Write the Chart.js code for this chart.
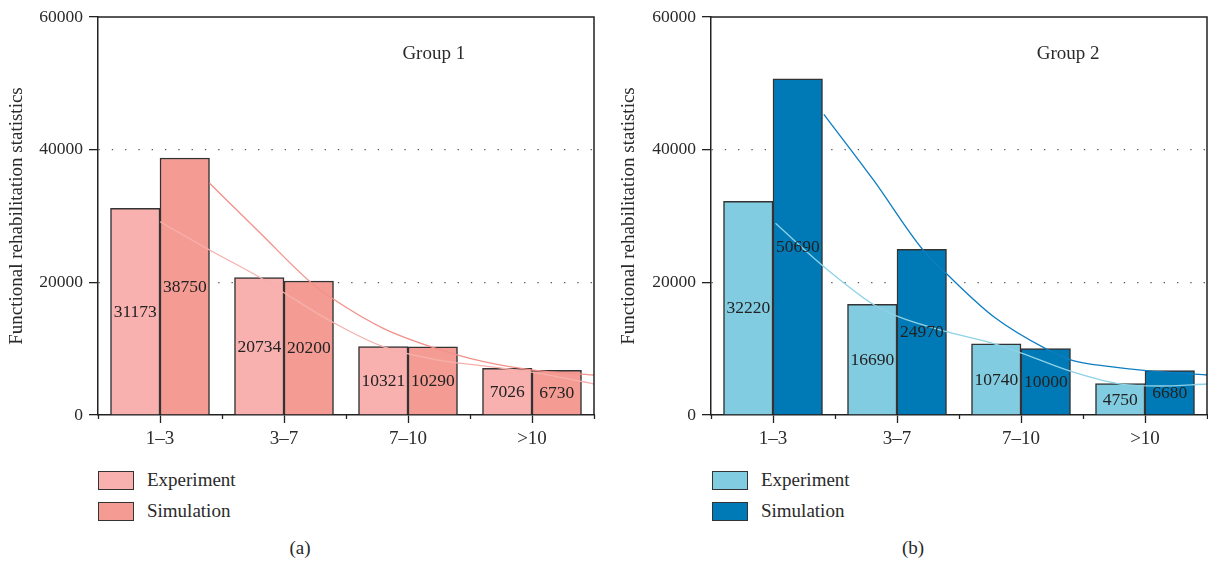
<!DOCTYPE html>
<html>
<head>
<meta charset="utf-8">
<script src="https://cdn.jsdelivr.net/npm/chart.js@4.4.1/dist/chart.umd.min.js"></script>
<style>
  body { margin: 0; background: #fff; font-family: "Liberation Serif", serif; color: #2a2a2a; }
  #wrap { position: relative; width: 1208px; height: 564px; }
  canvas { position: absolute; top: 0; }
  .box { position: absolute; width: 36px; height: 19px; border: 1.5px solid #333; box-sizing: border-box; }
  .txt { position: absolute; font-size: 19px; line-height: 20px; }
  .cap { position: absolute; font-size: 19px; line-height: 20px; transform: translateX(-50%); }
</style>
</head>
<body>
<div id="wrap">
  <canvas id="chartA" width="604" height="460" style="left:0"></canvas>
  <canvas id="chartB" width="596" height="460" style="left:612px"></canvas>
  <div id="legendA"></div>
  <div id="legendB"></div>
  <div class="cap" style="left:300px; top:538px">(a)</div>
  <div class="cap" style="left:913px; top:538px">(b)</div>
</div>
<script>
const categories = ["1–3", "3–7", "7–10", ">10"];
const yTicks = [0, 20000, 40000, 60000];
const seriesNames = ["Experiment", "Simulation"];

const group1Experiment = [31173, 20734, 10321, 7026];
const group1Simulation = [38750, 20200, 10290, 6730];
const group2Experiment = [32220, 16690, 10740, 4750];
const group2Simulation = [50690, 24970, 10000, 6680];

// fitted curves (x in category units from the left axis)
const g1ExpTrendX = [0.5, 0.9, 1.31, 1.5, 1.9, 2.3, 2.7, 3.11, 3.51, 4.0];
const g1ExpTrendY = [29140, 24870, 20700, 18440, 13910, 10300, 8440, 7390, 6430, 4670];
const g1SimTrendX = [0.9, 1.31, 1.71, 1.9, 2.3, 2.7, 3.11, 3.51, 4.0];
const g1SimTrendY = [34930, 27400, 20100, 17440, 13070, 10200, 8040, 6780, 6030];
const g2ExpTrendX = [0.52, 0.91, 1.32, 1.51, 1.9, 2.3, 2.51, 2.91, 3.3, 3.62, 4.0];
const g2ExpTrendY = [28900, 22360, 16540, 14820, 12560, 10660, 9300, 6530, 4670, 4370, 4670];
const g2SimTrendX = [0.91, 1.31, 1.71, 1.91, 2.28, 2.71, 2.92, 3.22, 3.51, 4.0];
const g2SimTrendY = [45330, 35430, 24870, 21100, 14820, 9900, 8190, 7290, 6680, 6030];

const FONT = "Liberation Serif";

/* ---------- PLUGINS ---------- */
const barValues = {
  id: "barValues",
  afterDatasetsDraw(chart) {
    const ctx = chart.ctx;
    ctx.save();
    ctx.font = "17.5px " + FONT;
    ctx.fillStyle = "#222";
    ctx.textAlign = "center";
    ctx.textBaseline = "middle";
    chart.data.datasets.forEach((ds, i) => {
      if (ds.type !== "bar") return;
      chart.getDatasetMeta(i).data.forEach((el, j) => {
        ctx.fillText(String(ds.data[j]), el.x, (el.y + el.base) / 2 + 1);
      });
    });
    ctx.restore();
  }
};

const frame = {
  id: "frame",
  afterDraw(chart, args, opts) {
    const a = chart.chartArea;
    const ctx = chart.ctx;
    ctx.save();
    ctx.strokeStyle = "#222";
    ctx.lineWidth = 1.5;
    ctx.beginPath();
    ctx.moveTo(a.left, a.top);
    ctx.lineTo(a.right, a.top);
    ctx.lineTo(a.right, a.bottom);
    ctx.stroke();
    ctx.font = "19px " + FONT;
    ctx.fillStyle = "#2a2a2a";
    ctx.textAlign = "center";
    ctx.textBaseline = "middle";
    ctx.fillText(opts.text, a.left + opts.pos * (a.right - a.left), 54);
    ctx.restore();
  }
};

function toPoints(xs, ys) {
  return xs.map((x, i) => ({ x: x, y: ys[i] }));
}

/* ---------- CHART ---------- */
function makeChart(id, exp, sim, expTrend, simTrend, colors, title, titlePos, axisWidth, padRight) {
  const bar = (label, data, color) => ({
    type: "bar", label: label, data: data, backgroundColor: color,
    borderColor: "#333", borderWidth: 1.5, order: 1,
    barThickness: 49.5
  });
  return new Chart(document.getElementById(id), {
    data: {
      labels: categories,
      datasets: [
        { type: "line", xAxisID: "xt", data: expTrend, borderColor: colors.expLine, borderWidth: 1.3,
          pointRadius: 0, cubicInterpolationMode: "monotone", order: 0 },
        { type: "line", xAxisID: "xt", data: simTrend, borderColor: colors.simLine, borderWidth: 1.3,
          pointRadius: 0, cubicInterpolationMode: "monotone", order: 0 },
        bar(seriesNames[0], exp, colors.exp),
        bar(seriesNames[1], sim, colors.sim)
      ]
    },
    options: {
      responsive: false,
      animation: false,
      layout: { padding: { top: 17, right: padRight, left: 0, bottom: 0 } },
      plugins: { legend: { display: false }, tooltip: { enabled: false }, frame: { text: title, pos: titlePos } },
      scales: {
        x: {
          type: "category",
          offset: true,
          grid: { display: true, offset: false, drawOnChartArea: false, tickLength: 8, tickColor: "#222", tickWidth: 1.3 },
          border: { color: "#222", width: 1.5 },
          ticks: { font: { family: FONT, size: 19 }, color: "#2a2a2a", padding: 5, maxRotation: 0 },
          afterFit: s => { s.height = 45; }
        },
        xt: {
          type: "linear",
          position: { y: 0 },
          min: 0, max: 4,
          ticks: { display: false, stepSize: 1 },
          grid: { drawOnChartArea: false, tickLength: 4, tickColor: "#222", tickWidth: 1.3 },
          border: { display: false }
        },
        y: {
          min: 0, max: 60000,
          afterBuildTicks: s => { s.ticks = yTicks.map(v => ({ value: v })); },
          ticks: { font: { family: FONT, size: 17.5 }, color: "#2a2a2a", padding: 6, callback: v => String(v) },
          grid: {
            color: c => (c.tick && (c.tick.value === 20000 || c.tick.value === 40000)) ? "#555" : "rgba(0,0,0,0)",
            lineWidth: 1.3, tickLength: 9, tickColor: "#222", tickWidth: 1.3
          },
          border: { color: "#222", width: 1.5, dash: [1.3, 12] },
          title: { display: true, text: "Functional rehabilitation statistics", font: { family: FONT, size: 19 },
                   color: "#2a2a2a", padding: { top: 6, bottom: 0 } },
          afterFit: s => { s.width = axisWidth; }
        }
      }
    },
    plugins: [barValues, frame]
  });
}

makeChart("chartA", group1Experiment, group1Simulation,
  toPoints(g1ExpTrendX, g1ExpTrendY), toPoints(g1SimTrendX, g1SimTrendY),
  { exp: "#F8B1AE", sim: "#F49C94", expLine: "#F6B0AB", simLine: "#F2918A" },
  "Group 1", 0.677, 98, 10);

makeChart("chartB", group2Experiment, group2Simulation,
  toPoints(g2ExpTrendX, g2ExpTrendY), toPoints(g2SimTrendX, g2SimTrendY),
  { exp: "#81CCE1", sim: "#007AB6", expLine: "#8ED2E6", simLine: "#0C7DC0" },
  "Group 2", 0.72, 99, 1);

/* ---------- LEGENDS ---------- */
function buildLegend(id, left, colors) {
  const el = document.getElementById(id);
  seriesNames.forEach((name, i) => {
    const top = 471 + i * 31;
    el.innerHTML += `<div class="box" style="left:${left}px; top:${top}px; background:${colors[i]}"></div>` +
      `<div class="txt" style="left:${left + 49}px; top:${top - 1}px">${name}</div>`;
  });
}
buildLegend("legendA", 98, ["#F8B1AE", "#F49C94"]);
buildLegend("legendB", 712, ["#81CCE1", "#007AB6"]);
</script>
</body>
</html>
